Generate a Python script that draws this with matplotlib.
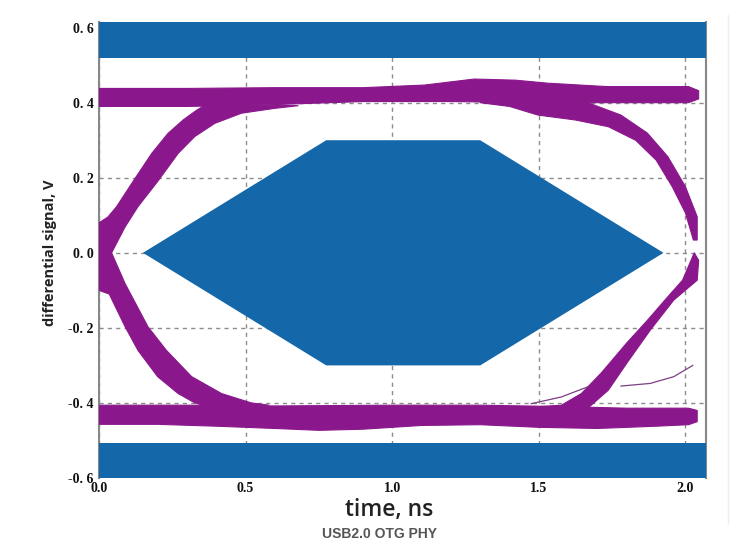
import matplotlib.pyplot as plt
from matplotlib.lines import Line2D

# axis ticks
t_ticks = [0.0, 0.5, 1.0, 1.5, 2.0]
v_ticks = [-0.6, -0.4, -0.2, 0.0, 0.2, 0.4, 0.6]

# USB2.0 HS mask (ns, V)
hex_t = [0.15, 0.775, 1.30, 1.925, 1.30, 0.775]
hex_v = [0.0, 0.3, 0.3, 0.0, -0.3, -0.3]
mask_hi = 0.518
mask_lo = -0.507

# eye traces, read as band edges (ns, V)
hi_top_t = [0.0, 0.3, 0.6, 0.9, 1.11, 1.28, 1.42, 1.53, 1.73, 1.9, 2.01, 2.045]
hi_top_v = [0.438, 0.438, 0.44, 0.44, 0.447, 0.463, 0.46, 0.452, 0.443, 0.443, 0.443, 0.432]
hi_bot_t = [0.0, 0.3, 0.6, 0.9, 1.2, 1.5, 1.8, 2.01, 2.045]
hi_bot_v = [0.39, 0.39, 0.395, 0.403, 0.403, 0.40, 0.40, 0.40, 0.41]

lo_top_t = [0.0, 0.3, 0.6, 1.0, 1.3, 1.6, 1.8, 2.01, 2.04]
lo_top_v = [-0.406, -0.406, -0.408, -0.406, -0.406, -0.41, -0.414, -0.414, -0.42]
lo_bot_t = [0.0, 0.2, 0.4, 0.6, 0.75, 0.9, 1.1, 1.3, 1.5, 1.7, 1.9, 2.01, 2.04]
lo_bot_v = [-0.457, -0.457, -0.462, -0.468, -0.473, -0.47, -0.46, -0.458, -0.465, -0.468, -0.462, -0.458, -0.45]

rise_l_out_t = [0.0, 0.03, 0.06, 0.116, 0.18, 0.235, 0.287, 0.333, 0.365]
rise_l_out_v = [0.08, 0.095, 0.123, 0.19, 0.265, 0.318, 0.354, 0.38, 0.395]
rise_l_in_t = [0.0, 0.043, 0.089, 0.133, 0.2, 0.27, 0.327, 0.395, 0.486, 0.6, 0.68]
rise_l_in_v = [-0.06, 0.0, 0.069, 0.123, 0.19, 0.265, 0.31, 0.345, 0.372, 0.385, 0.392]

fall_l_out_t = [0.0, 0.035, 0.089, 0.133, 0.2, 0.27, 0.327, 0.37]
fall_l_out_v = [-0.10, -0.11, -0.197, -0.26, -0.33, -0.375, -0.40, -0.41]
fall_l_in_t = [0.0, 0.043, 0.089, 0.167, 0.23, 0.316, 0.418, 0.52, 0.58]
fall_l_in_v = [0.06, 0.0, -0.082, -0.197, -0.26, -0.33, -0.375, -0.40, -0.406]

fall_r_out_t = [1.30, 1.40, 1.497, 1.624, 1.737, 1.83, 1.9, 1.955, 2.0, 2.027]
fall_r_out_v = [0.40, 0.39, 0.367, 0.354, 0.336, 0.30, 0.247, 0.176, 0.106, 0.034]
fall_r_in_t = [1.30, 1.5, 1.667, 1.78, 1.87, 1.94, 2.0, 2.04, 2.04]
fall_r_in_v = [0.42, 0.42, 0.40, 0.367, 0.319, 0.256, 0.176, 0.096, 0.034]

rise_r_out_t = [1.50, 1.577, 1.645, 1.713, 1.80, 1.87, 1.94, 1.99, 2.03]
rise_r_out_v = [-0.41, -0.406, -0.375, -0.32, -0.24, -0.18, -0.117, -0.073, 0.0]
rise_r_in_t = [1.60, 1.667, 1.737, 1.80, 1.88, 1.96, 2.04, 2.045]
rise_r_in_v = [-0.42, -0.414, -0.366, -0.294, -0.206, -0.126, -0.073, -0.02]

stray1_t = [1.474, 1.577, 1.667]
stray1_v = [-0.402, -0.384, -0.357]
stray2_t = [1.78, 1.88, 1.96, 2.025]
stray2_v = [-0.355, -0.348, -0.33, -0.30]

blue = '#1467a9'
purple = '#8a178b'

fig = plt.figure(figsize=(7.49, 5.56), dpi=100)
ax = fig.add_axes([99/749, 78/556, 607/749, 456/556])

ax.set_xlim(0, 2.07)
ax.set_ylim(-0.6, 0.615)

# mask
ax.axhspan(mask_hi, 0.615, color=blue, lw=0, zorder=3)
ax.axhspan(-0.6, mask_lo, color=blue, lw=0, zorder=3)
ax.fill(hex_t, hex_v, color=blue, lw=0, zorder=3)

# eye bands
bands = [
    (hi_top_t, hi_top_v, hi_bot_t, hi_bot_v),
    (lo_top_t, lo_top_v, lo_bot_t, lo_bot_v),
    (rise_l_out_t, rise_l_out_v, rise_l_in_t, rise_l_in_v),
    (fall_l_out_t, fall_l_out_v, fall_l_in_t, fall_l_in_v),
    (fall_r_out_t, fall_r_out_v, fall_r_in_t, fall_r_in_v),
    (rise_r_out_t, rise_r_out_v, rise_r_in_t, rise_r_in_v),
]
for t1, v1, t2, v2 in bands:
    ax.fill(t1 + t2[::-1], v1 + v2[::-1], facecolor=purple, edgecolor=purple, lw=0.8, zorder=4)

ax.plot(stray1_t, stray1_v, color='#7b3f82', lw=0.9, zorder=4)
ax.plot(stray2_t, stray2_v, color='#7b3f82', lw=0.9, zorder=4)

ax.set_xticks(t_ticks)
ax.set_yticks(v_ticks)
ax.set_xticklabels(['%.1f' % t for t in t_ticks])
ax.set_yticklabels([('%.1f' % v).replace('.', '. ') for v in v_ticks])
for lab in ax.get_xticklabels() + ax.get_yticklabels():
    lab.set_family('Liberation Serif')
    lab.set_fontweight('bold')
    lab.set_fontsize(10)
ax.tick_params(axis='x', length=0, pad=3, colors='#111111')
ax.tick_params(axis='y', length=0, pad=4, colors='#111111')

ax.grid(True, color='#8c8c8c', lw=1, linestyle=(0, (3, 3)), zorder=1)
ax.set_axisbelow(True)

for s in ['top', 'bottom']:
    ax.spines[s].set_visible(False)
for s in ['left', 'right']:
    ax.spines[s].set_color('#888888')
    ax.spines[s].set_linewidth(1.5)

ax.set_ylabel('differential signal, V', family='Open Sans', fontweight='bold',
              fontsize=10.5, color='#222222')
ax.yaxis.set_label_coords(-42/607, 0.495)
ax.set_xlabel('time, ns', family='Open Sans', fontweight='semibold',
              fontsize=16.5, color='#222222')
ax.xaxis.set_label_coords((389 - 99)/607, -20/456)

fig.text(380/749, 1 - 534/556, 'USB2.0 OTG PHY', family='Liberation Sans', fontweight='bold',
         fontsize=10, color='#555555', ha='center', va='center')

# faint frame on the right
fig.add_artist(Line2D([728/749, 728/749], [1 - 523/556, 1 - 15/556], color='#eeeeee', lw=1))

plt.savefig('out.png', dpi=100)
